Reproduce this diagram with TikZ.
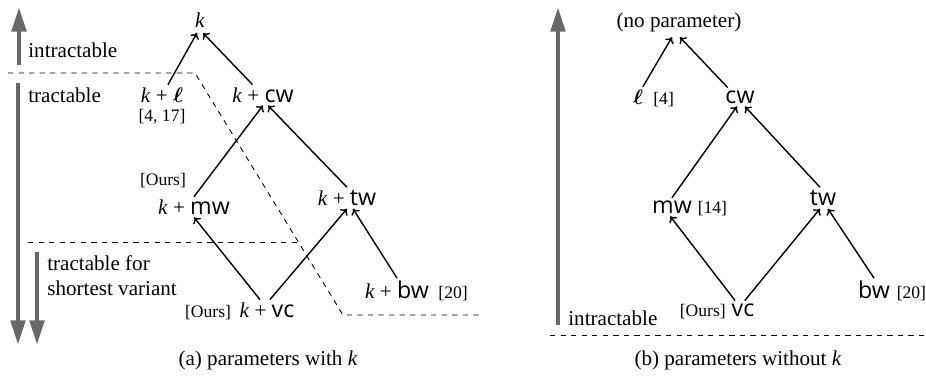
\documentclass[tikz,border=0pt]{standalone}
\usepackage{fontspec}
\setmainfont{Liberation Serif}
\setsansfont[Scale=1.1]{Open Sans}
\usetikzlibrary{arrows.meta,positioning}
\definecolor{bargray}{RGB}{104,104,104}
\newcommand{\bell}{\mbox{\boldmath$\ell$}}
\newcommand{\kplus}{\textit{k}\hspace{0.25em}+\hspace{0.25em}}
\newcommand{\withk}[1]{\kplus\textsf{#1}}

\begin{document}
\begin{tikzpicture}[x=1cm,y=1cm,
    param/.style={font=\fontsize{12}{14}\selectfont, inner sep=1.5pt},
    cite/.style={font=\fontsize{10}{12}\selectfont, inner sep=1pt},
    side/.style={font=\fontsize{12}{14.5}\selectfont, anchor=west, inner sep=0pt, align=left},
    link/.style={-{To[length=3.2pt,width=5.5pt]}, line width=0.8pt},
    bar/.style={bargray, line width=2.8pt, -{Triangle[length=14pt,width=8pt]}},
    cut/.style={dashed, line width=0.5pt}]
  \useasboundingbox (0,0) rectangle (18.52,-7.58);

  % (a) parameters with k
  \draw[bar] (0.38,-1.30) -- (0.38,-0.14);
  \node[side] (intrA) at (0.56,-1.00) {intractable};
  \draw[cut] (0.16,-1.46) -- (3.90,-1.46) -- (6.86,-6.30) -- (9.64,-6.30);
  \node[side] (tracA) at (0.56,-1.90) {tractable};
  \draw[bar] (0.36,-1.66) -- (0.36,-6.90);
  \draw[cut] (0.56,-4.84) -- (6.00,-4.84);
  \draw[bar] (0.74,-5.04) -- (0.74,-6.90);
  \node[side] (shortA) at (0.94,-5.51) {tractable for\\shortest variant};

  \node[param, inner sep=3pt] (k) at (4.00,-0.40) {\textit{k}};
  \node[param] (kl) at (3.24,-1.90) {\kplus\bell};
  \node[cite, below=1pt of kl] (klref) {[4, 17]};
  \node[param] (kcw) at (5.26,-1.90) {\withk{cw}};
  \node[param] (kmw) at (3.88,-4.14) {\withk{mw}};
  \node[cite] (kmwref) at (3.26,-3.62) {[Ours]};
  \node[param] (ktw) at (6.94,-3.96) {\withk{tw}};
  \node[param] (kvc) at (5.34,-6.20) {\withk{vc}};
  \node[cite, base left=2pt of kvc] (kvcref) {[Ours]};
  \node[param] (kbw) at (7.94,-5.80) {\withk{bw}};
  \node[cite, base right=2.5pt of kbw] (kbwref) {[20]};

  \draw[link] ([xshift=3.4pt]kl.north) -- ([xshift=-1.7pt]k.south);
  \draw[link] ([xshift=-6pt]kcw.north) -- ([xshift=1.7pt]k.south);
  \draw[link] (kmw.north) -- (kcw.south);
  \draw[link] (ktw.north) -- ([xshift=2.8pt]kcw.south);
  \draw[link] ([xshift=-4pt]kvc.north) -- (kmw.south);
  \draw[link] ([xshift=1.7pt]kvc.north) -- (ktw.south);
  \draw[link] (kbw.north) -- ([xshift=3.4pt]ktw.south);

  \node[param] (captA) at (5.36,-7.20) {(a) parameters with \textit{k}};

  % (b) parameters without k
  \draw[bar] (11.16,-6.50) -- (11.16,-0.14);
  \node[side] (intrB) at (11.36,-6.36) {intractable};
  \draw[cut] (11.00,-6.70) -- (18.52,-6.70);

  \node[param, inner sep=3pt] (np) at (13.58,-0.44) {(no parameter)};
  \node[param] (l) at (12.76,-1.94) {\bell};
  \node[cite, base right=3pt of l] (lref) {[4]};
  \node[param] (cw) at (14.80,-1.94) {\textsf{cw}};
  \node[param] (mw) at (13.44,-4.14) {\textsf{mw}};
  \node[cite, base right=0.5pt of mw] (mwref) {[14]};
  \node[param] (tw) at (16.46,-3.96) {\textsf{tw}};
  \node[param] (vc) at (14.86,-6.20) {\textsf{vc}};
  \node[cite, base left=0.5pt of vc] (vcref) {[Ours]};
  \node[param] (bw) at (17.48,-5.80) {\textsf{bw}};
  \node[cite, base right=1pt of bw] (bwref) {[20]};

  \draw[link] ([xshift=2.8pt]l.north) -- ([xshift=-4pt]np.south);
  \draw[link] ([xshift=-7pt]cw.north) -- ([xshift=0.5pt]np.south);
  \draw[link] (mw.north) -- ([xshift=-1.7pt]cw.south);
  \draw[link] ([xshift=-1.7pt]tw.north) -- ([xshift=2.8pt]cw.south);
  \draw[link] ([xshift=-4.5pt]vc.north) -- ([xshift=-1pt]mw.south);
  \draw[link] ([xshift=1pt]vc.north) -- ([xshift=-1.7pt]tw.south);
  \draw[link] (bw.north) -- ([xshift=2.8pt]tw.south);

  \node[param] (captB) at (14.76,-7.20) {(b) parameters without \textit{k}};
\end{tikzpicture}
\end{document}
